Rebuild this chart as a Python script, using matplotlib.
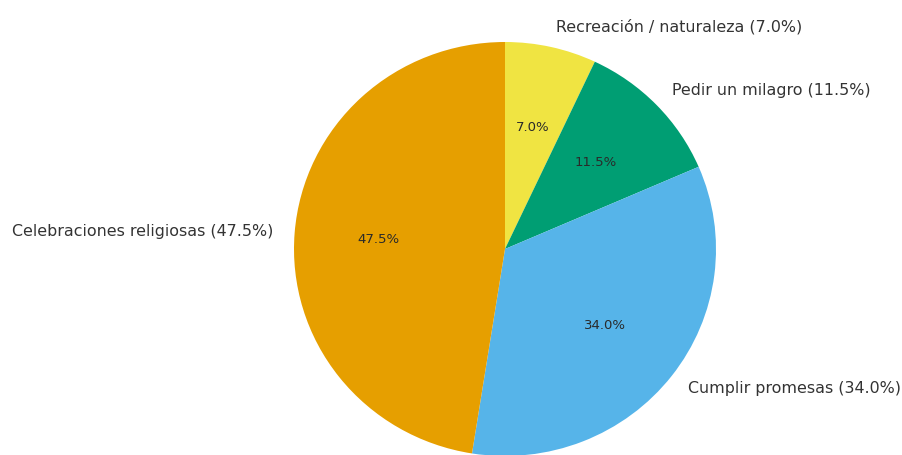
import matplotlib.pyplot as plt

# Motivos de visita
motivos = ["Recreación / naturaleza", "Pedir un milagro", "Cumplir promesas", "Celebraciones religiosas"]
porcentajes = [7.0, 11.5, 34.0, 47.5]
colores = ["#F0E442", "#009E73", "#56B4E9", "#E69F00"]

etiquetas = [f"{m} ({p:.1f}%)" for m, p in zip(motivos, porcentajes)]

fig = plt.figure(figsize=(9.03, 4.55), dpi=100)
ax = fig.add_axes([0, 0, 1, 1])

wedges, textos, autotextos = ax.pie(
    porcentajes,
    labels=etiquetas,
    colors=colores,
    startangle=90,
    counterclock=False,
    autopct="%1.1f%%",
    pctdistance=0.6,
    labeldistance=1.1,
    textprops={"fontsize": 11.4, "color": "#333333"},
)
for t in autotextos:
    t.set_fontsize(9.5)
    t.set_color("#2a2a2a")

# pie fija aspect igual; se libera para controlar la posición
ax.set_aspect("auto")
ax.set_xlim(-505 / 211, 398 / 211)
ax.set_ylim(-206 / 207, 249 / 207)
ax.axis("off")

fig.savefig("out.png", dpi=100)
